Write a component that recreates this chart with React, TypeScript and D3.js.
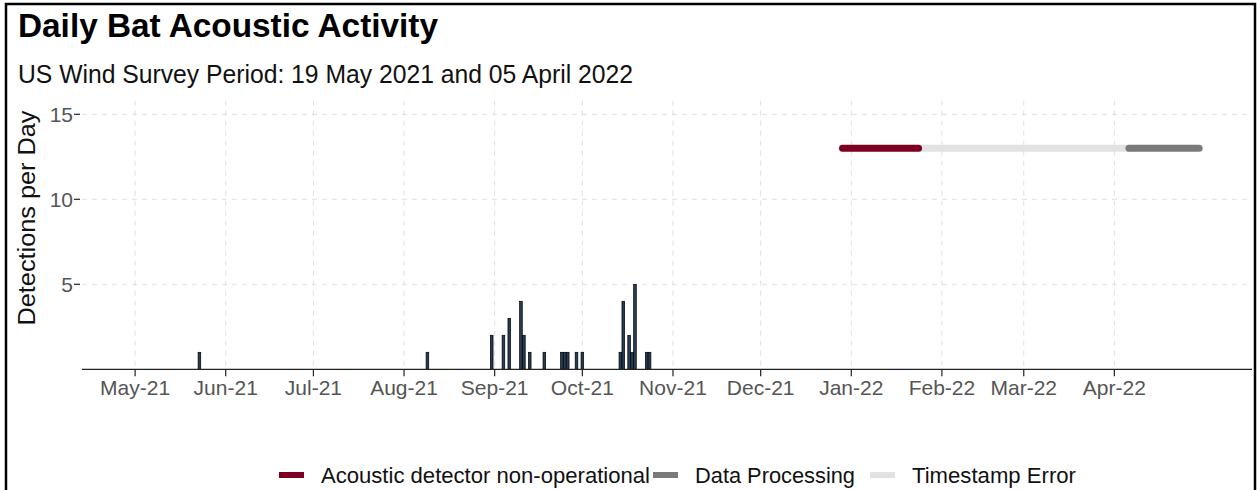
import { useEffect, useRef } from 'react';
import * as d3 from 'd3';

// daily detections (only days with activity)
const detectionDates = [
  '2021-05-23', '2021-08-09', '2021-08-31', '2021-09-04', '2021-09-06', '2021-09-10',
  '2021-09-11', '2021-09-13', '2021-09-18', '2021-09-24', '2021-09-25', '2021-09-26',
  '2021-09-29', '2021-10-01', '2021-10-14', '2021-10-15', '2021-10-17', '2021-10-18',
  '2021-10-19', '2021-10-23', '2021-10-24'
];
const detectionCounts = [1, 1, 2, 2, 3, 4, 2, 1, 1, 1, 1, 1, 1, 1, 1, 4, 2, 1, 5, 1, 1];

// status periods drawn as segments at a fixed height
const statusLabels = ['Acoustic detector non-operational', 'Data Processing', 'Timestamp Error'];
const statusColors = ['#7d0022', '#7a7a7a', '#e2e2e2'];
const statusStarts = ['2021-12-29', '2022-04-06', '2022-01-24'];
const statusEnds = ['2022-01-24', '2022-04-30', '2022-04-06'];
const statusLevel = 13;
const statusDrawOrder = [2, 0, 1];

const monthTicks = [
  '2021-05-01', '2021-06-01', '2021-07-01', '2021-08-01', '2021-09-01', '2021-10-01',
  '2021-11-01', '2021-12-01', '2022-01-01', '2022-02-01', '2022-03-01', '2022-04-01'
];
const yTicks = [5, 10, 15];

const xLimits = ['2021-04-12T20:00', '2022-05-18T02:00'];
const yLimits = [0, 15.8];

const FONT = "'Liberation Sans', Arial, 'Noto Sans', sans-serif";

const parseDay = (s: string) => {
  const [y, m, d] = s.split('-').map(Number);
  return new Date(y, m - 1, d);
};

export default function App() {
  const svgRef = useRef<SVGSVGElement>(null);
  const width = 1257;
  const height = 490;

  useEffect(() => {
    if (!svgRef.current) return;
    const svg = d3.select(svgRef.current);
    svg.selectAll('*').remove();

    // frame around the figure
    svg.append('rect')
      .attr('x', 6).attr('y', 4)
      .attr('width', 1249).attr('height', 540)
      .attr('fill', '#ffffff')
      .attr('stroke', '#000000')
      .attr('stroke-width', 2.5);

    const panel = { left: 82, right: 1252, top: 100, bottom: 369.3 };

    const x = d3.scaleTime()
      .domain(xLimits.map(s => new Date(s)))
      .range([panel.left, panel.right]);

    const y = d3.scaleLinear()
      .domain([0, 15])
      .range([panel.bottom, panel.bottom - 15 * 17]);
    const panelTop = y(yLimits[1]);

    // grid
    const grid = svg.append('g');
    monthTicks.forEach(t => {
      const px = x(parseDay(t));
      grid.append('line')
        .attr('x1', px).attr('x2', px)
        .attr('y1', panelTop).attr('y2', panel.bottom)
        .attr('stroke', '#e0e0e0')
        .attr('stroke-width', 1)
        .attr('stroke-dasharray', '5,5');
    });
    yTicks.forEach(t => {
      grid.append('line')
        .attr('x1', panel.left).attr('x2', panel.right)
        .attr('y1', y(t)).attr('y2', y(t))
        .attr('stroke', '#e0e0e0')
        .attr('stroke-width', 1)
        .attr('stroke-dasharray', '5,5');
    });

    // bars
    const halfDay = 0.45 * 24 * 3600 * 1000;
    detectionDates.forEach((d, i) => {
      const day = parseDay(d);
      const x0 = x(new Date(day.getTime() - halfDay));
      const x1 = x(new Date(day.getTime() + halfDay));
      svg.append('rect')
        .attr('x', x0)
        .attr('y', y(detectionCounts[i]))
        .attr('width', x1 - x0)
        .attr('height', y(0) - y(detectionCounts[i]))
        .attr('fill', '#263c52')
        .attr('stroke', '#000000')
        .attr('stroke-width', 0.7);
    });

    // status segments
    statusDrawOrder.forEach(i => {
      svg.append('line')
        .attr('x1', x(parseDay(statusStarts[i])))
        .attr('x2', x(parseDay(statusEnds[i])))
        .attr('y1', y(statusLevel))
        .attr('y2', y(statusLevel))
        .attr('stroke', statusColors[i])
        .attr('stroke-width', 7)
        .attr('stroke-linecap', 'round');
    });

    // x axis
    svg.append('line')
      .attr('x1', panel.left).attr('x2', panel.right)
      .attr('y1', panel.bottom).attr('y2', panel.bottom)
      .attr('stroke', '#222222')
      .attr('stroke-width', 1.2);

    const fmt = d3.timeFormat('%b-%y');
    monthTicks.forEach(t => {
      const px = x(parseDay(t));
      svg.append('line')
        .attr('x1', px).attr('x2', px)
        .attr('y1', panel.bottom).attr('y2', panel.bottom + 7)
        .attr('stroke', '#222222')
        .attr('stroke-width', 1.2);
      svg.append('text')
        .attr('x', px)
        .attr('y', panel.bottom + 26)
        .attr('text-anchor', 'middle')
        .attr('font-family', FONT)
        .attr('font-size', '21px')
        .attr('fill', '#555555')
        .text(fmt(parseDay(t)));
    });

    // y axis ticks
    yTicks.forEach(t => {
      svg.append('line')
        .attr('x1', panel.left - 8).attr('x2', panel.left - 2)
        .attr('y1', y(t)).attr('y2', y(t))
        .attr('stroke', '#222222')
        .attr('stroke-width', 1.2);
      svg.append('text')
        .attr('x', panel.left - 9)
        .attr('y', y(t))
        .attr('dy', '0.35em')
        .attr('text-anchor', 'end')
        .attr('font-family', FONT)
        .attr('font-size', '21px')
        .attr('fill', '#555555')
        .text(t);
    });

    // y title
    svg.append('text')
      .attr('transform', 'translate(35, 218) rotate(-90)')
      .attr('text-anchor', 'middle')
      .attr('font-family', FONT)
      .attr('font-size', '23px')
      .attr('fill', '#111111')
      .attr('textLength', 215)
      .attr('lengthAdjust', 'spacingAndGlyphs')
      .text('Detections per Day');

    // titles
    svg.append('text')
      .attr('x', 18).attr('y', 37)
      .attr('font-family', FONT)
      .attr('font-size', '33px')
      .attr('font-weight', 'bold')
      .attr('fill', '#000000')
      .attr('textLength', 420)
      .attr('lengthAdjust', 'spacingAndGlyphs')
      .text('Daily Bat Acoustic Activity');

    svg.append('text')
      .attr('x', 18).attr('y', 83)
      .attr('font-family', FONT)
      .attr('font-size', '25px')
      .attr('fill', '#111111')
      .attr('textLength', 615)
      .attr('lengthAdjust', 'spacingAndGlyphs')
      .text('US Wind Survey Period: 19 May 2021 and 05 April 2022');

    // legend
    const legendTextWidths = [329, 160, 164];
    const legendGaps = [3, 15];
    const legend = svg.append('g').attr('transform', 'translate(279, 475)');
    let cursor = 0;
    statusLabels.forEach((label, i) => {
      legend.append('rect')
        .attr('x', cursor)
        .attr('y', -3)
        .attr('width', 25)
        .attr('height', 6)
        .attr('fill', statusColors[i]);
      legend.append('text')
        .attr('x', cursor + 42)
        .attr('y', 0)
        .attr('dy', '0.35em')
        .attr('font-family', FONT)
        .attr('font-size', '22px')
        .attr('fill', '#111111')
        .attr('textLength', legendTextWidths[i])
        .attr('lengthAdjust', 'spacingAndGlyphs')
        .text(label);
      cursor += 42 + legendTextWidths[i] + (legendGaps[i] ?? 0);
    });
  }, []);

  return (
    <div style={{ position: 'absolute', left: 0, top: 0 }}>
      <svg ref={svgRef} width={width} height={height} style={{ display: 'block' }} />
    </div>
  );
}
